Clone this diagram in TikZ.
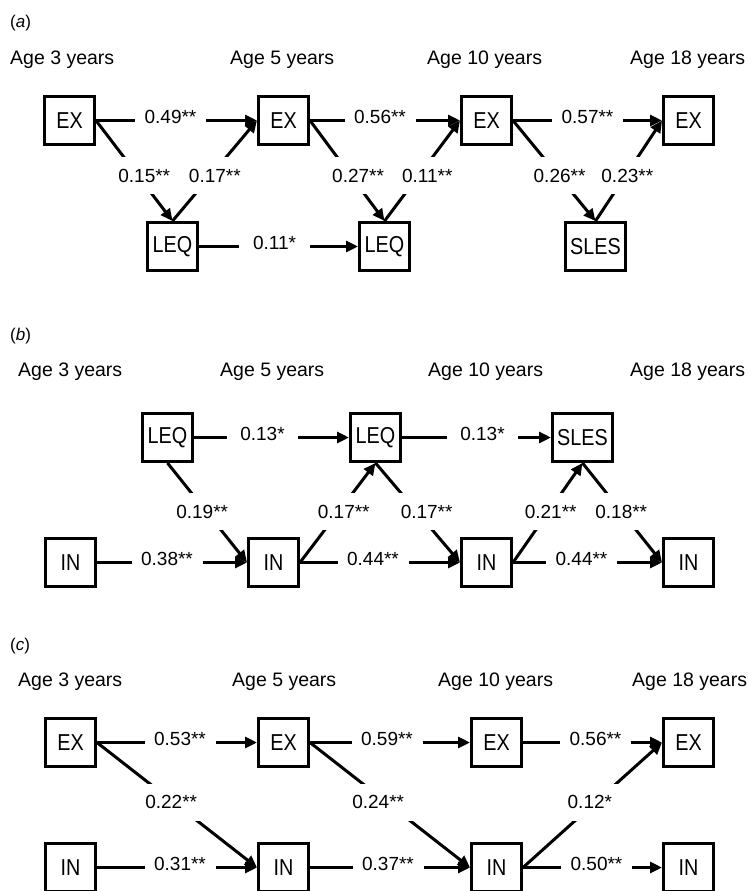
\documentclass[tikz,border=0pt]{standalone}
\usepackage{fontspec}
\setmainfont{Liberation Sans}
\newfontfamily\boxfont[FakeStretch=0.86]{Liberation Sans}
\usetikzlibrary{arrows.meta}
\tikzset{
  var/.style={draw, line width=3pt, minimum width=50pt, minimum height=48pt, inner sep=0pt, font=\boxfont\fontsize{23}{26}\selectfont},
  wide/.style={minimum width=60pt},
  conn/.style={line width=3pt, -{Triangle[length=12pt,width=11pt]}},
  coef/.style={fill=white, minimum width=71pt, minimum height=37pt, inner sep=0pt, font=\fontsize{19}{22}\selectfont},
  hcoef/.style={coef, yshift=4pt},
  age/.style={anchor=base west, inner sep=0pt, font=\fontsize{19.5}{23}\selectfont},
  panel/.style={anchor=base west, inner sep=0pt, font=\fontsize{17}{20}\selectfont},
}
\begin{document}
\begin{tikzpicture}[x=1pt,y=-1pt]
\useasboundingbox[fill=white] (0,0) rectangle (749,891);

% ---------------- panel (a)
\node[panel] (pa) at (10,28) {(\textit{a})};
\node[age] (a3) at (10,64) {Age 3 years};
\node[age] (a5) at (230,64) {Age 5 years};
\node[age] (a10) at (427,64) {Age 10 years};
\node[age] (a18) at (630,64) {Age 18 years};

\node[var] (aEX1) at (69.5,120.5) {EX};
\node[var] (aEX2) at (283.5,120.5) {EX};
\node[var] (aEX3) at (486.5,120.5) {EX};
\node[var] (aEX4) at (688.5,120.5) {EX};
\node[var] (aLEQ1) at (172.5,246.5) {LEQ};
\node[var] (aLEQ2) at (384.5,246.5) {LEQ};
\node[var,wide] (aSLES) at (595.5,246.5) {SLES};

\draw[conn] (aEX1) -- node[hcoef, xshift=-6pt] (ca1) {0.49**} (aEX2);
\draw[conn] (aEX2) -- node[hcoef, xshift=-5pt] (ca2) {0.56**} (aEX3);
\draw[conn] (aEX3) -- node[hcoef] (ca3) {0.57**} (aEX4);
\draw[conn] (aLEQ1) -- node[hcoef, xshift=-4pt] (ca4) {0.11*} (aLEQ2);

\draw[conn] (aEX1.east) -- node[coef, pos=0.552, xshift=6pt] (ca5) {0.15**} (aLEQ1.north);
\draw[conn] (aLEQ1.north) -- node[coef, pos=0.448, xshift=4.5pt] (ca6) {0.17**} (aEX2.west);
\draw[conn] (aEX2.east) -- node[coef, pos=0.552, xshift=7pt] (ca7) {0.27**} (aLEQ2.north);
\draw[conn] (aLEQ2.north) -- node[coef, pos=0.448, xshift=9pt] (ca8) {0.11**} (aEX3.west);
\draw[conn] (aEX3.east) -- node[coef, pos=0.552, xshift=1pt] (ca9) {0.26**} (aSLES.north);
\draw[conn] (aSLES.north) -- node[coef, pos=0.448, xshift=2pt] (ca10) {0.23**} (aEX4.west);

% ---------------- panel (b)
\node[panel] (pb) at (10,340) {(\textit{b})};
\node[age] (b3) at (18,376) {Age 3 years};
\node[age] (b5) at (220,376) {Age 5 years};
\node[age] (b10) at (428,376) {Age 10 years};
\node[age] (b18) at (630,376) {Age 18 years};

\node[var] (bLEQ1) at (167.5,437.5) {LEQ};
\node[var] (bLEQ2) at (375.5,437.5) {LEQ};
\node[var,wide] (bSLES) at (582.5,437.5) {SLES};
\node[var] (bIN1) at (70.5,562.5) {IN};
\node[var] (bIN2) at (273.5,562.5) {IN};
\node[var] (bIN3) at (486.5,562.5) {IN};
\node[var] (bIN4) at (688.5,562.5) {IN};

\draw[conn] (bLEQ1) -- node[hcoef, xshift=-9pt] (cb1) {0.13*} (bLEQ2);
\draw[conn] (bLEQ2) -- node[hcoef, xshift=6pt] (cb2) {0.13*} (bSLES);
\draw[conn] (bIN1) -- node[hcoef, xshift=-5pt] (cb3) {0.38**} (bIN2);
\draw[conn] (bIN2) -- node[hcoef, xshift=-7pt] (cb4) {0.44**} (bIN3);
\draw[conn] (bIN3) -- node[hcoef, xshift=-6pt] (cb5) {0.44**} (bIN4);

\draw[conn] (bLEQ1.south) -- node[coef, pos=0.487, xshift=-4pt] (cb6) {0.19**} (bIN2.west);
\draw[conn] (bIN2.east) -- node[coef, pos=0.513, xshift=5pt] (cb7) {0.17**} (bLEQ2.south);
\draw[conn] (bLEQ2.south) -- node[coef, pos=0.487, xshift=10pt] (cb8) {0.17**} (bIN3.west);
\draw[conn] (bIN3.east) -- node[coef, pos=0.513, xshift=2pt] (cb9) {0.21**} (bSLES.south);
\draw[conn] (bSLES.south) -- node[coef, pos=0.487] (cb10) {0.18**} (bIN4.west);

% ---------------- panel (c)
\node[panel] (pc) at (10,650) {(\textit{c})};
\node[age] (c3) at (18,686) {Age 3 years};
\node[age] (c5) at (232,686) {Age 5 years};
\node[age] (c10) at (438,686) {Age 10 years};
\node[age] (c18) at (632,686) {Age 18 years};

\node[var] (cEX1) at (70.5,742.5) {EX};
\node[var] (cEX2) at (283.5,742.5) {EX};
\node[var] (cEX3) at (496.5,742.5) {EX};
\node[var] (cEX4) at (688.5,742.5) {EX};
\node[var] (cIN1) at (70.5,867.5) {IN};
\node[var] (cIN2) at (283.5,867.5) {IN};
\node[var] (cIN3) at (496.5,867.5) {IN};
\node[var] (cIN4) at (688.5,867.5) {IN};

\draw[conn] (cEX1) -- node[hcoef, xshift=3pt] (cc1) {0.53**} (cEX2);
\draw[conn] (cEX2) -- node[hcoef, xshift=-3pt] (cc2) {0.59**} (cEX3);
\draw[conn] (cEX3) -- node[hcoef, xshift=3pt] (cc3) {0.56**} (cEX4);
\draw[conn] (cIN1) -- node[hcoef, xshift=3pt] (cc4) {0.31**} (cIN2);
\draw[conn] (cIN2) -- node[hcoef, xshift=-2pt] (cc5) {0.37**} (cIN3);
\draw[conn] (cIN3) -- node[hcoef, xshift=4pt] (cc6) {0.50**} (cIN4);

\draw[conn] (cEX1.east) -- node[coef, pos=0.476, xshift=-2pt] (cc7) {0.22**} (cIN2.west);
\draw[conn] (cEX2.east) -- node[coef, pos=0.476, xshift=-8pt] (cc8) {0.24**} (cIN3.west);
\draw[conn] (cIN3.east) -- node[coef, pos=0.524, xshift=-6pt] (cc9) {0.12*} (cEX4.west);
\end{tikzpicture}
\end{document}
